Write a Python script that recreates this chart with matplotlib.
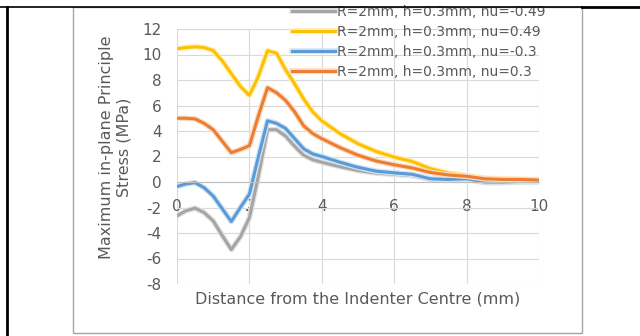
import numpy as np
import matplotlib
matplotlib.use('Agg')
import matplotlib.pyplot as plt
import matplotlib.patheffects as pe
from matplotlib.lines import Line2D
from matplotlib.patches import Rectangle

plt.rcParams['font.family'] = ['DejaVu Sans']
plt.rcParams['axes.unicode_minus'] = False

# distancia al centro del indentador (mm)
x = [0, 0.25, 0.5, 0.75, 1.0, 1.25, 1.5, 1.75, 2.0, 2.25, 2.5, 2.75, 3.0, 3.25,
     3.5, 3.75, 4.0, 4.5, 5.0, 5.5, 6.0, 6.5, 7.0, 7.5, 8.0, 8.5, 9.0, 9.5, 10.0]

# tension principal maxima en el plano (MPa)
s_nu_m049 = [-2.65, -2.25, -2.05, -2.4, -3.05, -4.2, -5.3, -4.3, -2.8, 0.5, 4.1, 4.1,
             3.6, 2.8, 2.1, 1.75, 1.55, 1.2, 0.9, 0.7, 0.6, 0.5, 0.2, 0.15, 0.2,
             -0.05, -0.05, 0.0, 0.0]
s_nu_049 = [10.45, 10.55, 10.6, 10.55, 10.3, 9.5, 8.5, 7.5, 6.8, 8.3, 10.3, 10.1,
            8.8, 7.7, 6.5, 5.5, 4.8, 3.8, 3.0, 2.4, 1.95, 1.6, 1.05, 0.7, 0.5,
            0.3, 0.25, 0.2, 0.2]
s_nu_m03 = [-0.35, -0.15, -0.05, -0.45, -1.1, -2.1, -3.1, -2.0, -0.95, 2.0, 4.8, 4.6,
            4.2, 3.4, 2.6, 2.2, 2.0, 1.55, 1.15, 0.85, 0.72, 0.6, 0.25, 0.2, 0.25,
            0.0, 0.0, 0.05, 0.05]
s_nu_03 = [5.0, 5.0, 4.95, 4.6, 4.1, 3.2, 2.3, 2.55, 2.85, 5.2, 7.4, 7.0, 6.4, 5.5,
           4.4, 3.8, 3.4, 2.7, 2.1, 1.65, 1.35, 1.1, 0.75, 0.55, 0.45, 0.25, 0.2,
           0.2, 0.15]

series = [
    ('R=2mm, h=0.3mm, nu=-0.49', s_nu_m049, '#A5A5A5', '#E2E2E2'),
    ('R=2mm, h=0.3mm, nu=0.49', s_nu_049, '#FFC000', '#FFEFB5'),
    ('R=2mm, h=0.3mm, nu=-0.3', s_nu_m03, '#5B9BD5', '#D2E4F5'),
    ('R=2mm, h=0.3mm, nu=0.3', s_nu_03, '#ED7D31', '#F9DCC6'),
]

fig = plt.figure(figsize=(6.4, 3.36), dpi=100)
W, H = 640, 336
ax = fig.add_axes([177 / W, 1 - 284 / H, 362 / W, 255 / H])

for lab, s, c, halo in series:
    ax.plot(x, s, color=c, lw=2.2, label=lab, solid_joinstyle='round',
            path_effects=[pe.Stroke(linewidth=4.0, foreground=halo), pe.Normal()])

ax.set_xlim(0, 10)
ax.set_ylim(-8, 12)
ax.set_xticks(np.arange(0, 11, 2))
ax.set_yticks(np.arange(-8, 13, 2))
ax.grid(True, color='#D9D9D9', lw=0.8)
ax.set_axisbelow(True)
for k in ['top', 'right', 'left']:
    ax.spines[k].set_visible(False)
ax.spines['bottom'].set_position(('data', 0))
ax.spines['bottom'].set_color('#BFBFBF')
ax.tick_params(axis='both', length=0, labelsize=11, labelcolor='#595959')
ax.tick_params(axis='x', pad=12)
ax.tick_params(axis='y', pad=11)

fig.text(115 / W, 1 - 147 / H, 'Maximum in-plane Principle\nStress (MPa)', rotation=90,
         ha='center', va='center', fontsize=11.5, color='#595959', linespacing=1.2)
fig.text(358 / W, 1 - 299 / H, 'Distance from the Indenter Centre (mm)',
         ha='center', va='center', fontsize=11.5, color='#595959')

leg = ax.legend(loc='upper left', bbox_to_anchor=(292 / W, 1 - 5 / H),
                bbox_transform=fig.transFigure, frameon=False, fontsize=10,
                handlelength=3.1, handletextpad=0.15, labelspacing=0.42,
                borderaxespad=0, borderpad=0)
for t in leg.get_texts():
    t.set_color('#595959')

# marco del grafico y lineas de la pagina
fig.add_artist(Rectangle((73 / W, 1 - 333 / H), 509 / W, 326 / H, fill=False,
                         ec='#A6A6A6', lw=1.0, transform=fig.transFigure))
fig.add_artist(Line2D([0, 582 / W], [1 - 7 / H, 1 - 7 / H], color='black', lw=1.2,
                      transform=fig.transFigure))
fig.add_artist(Line2D([582 / W, 1], [1 - 7 / H, 1 - 7 / H], color='black', lw=2.0,
                      transform=fig.transFigure))
fig.add_artist(Line2D([7 / W, 7 / W], [0, 1 - 7 / H], color='black', lw=2.0,
                      transform=fig.transFigure))

fig.savefig('out.png', dpi=100, facecolor='white')
